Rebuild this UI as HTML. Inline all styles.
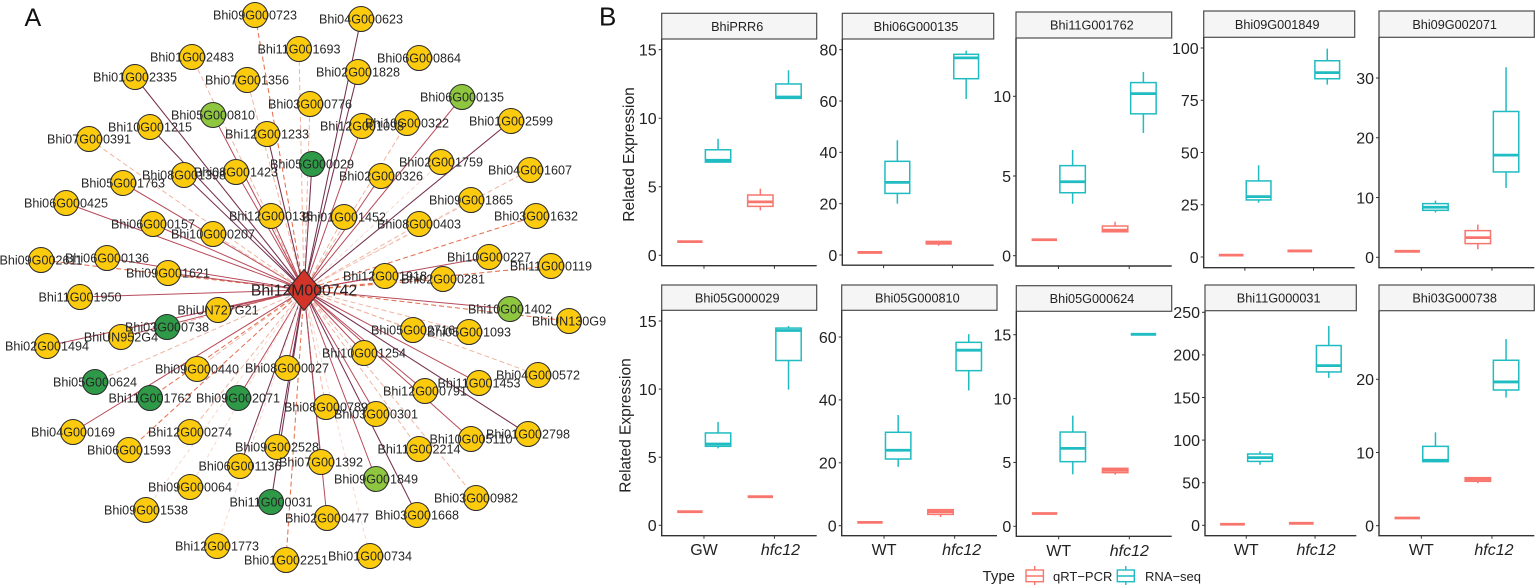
<!DOCTYPE html>
<html lang="en">
<head>
<meta charset="utf-8">
<title>Bhi12M000742 co-expression network and expression boxplots</title>
<style>
  html, body { margin: 0; padding: 0; background: #fff; }
  svg { display: block; font-family: "Liberation Sans", Arial, sans-serif; }
</style>
</head>
<body>
<svg id="figure" width="1535" height="585" viewBox="0 0 1535 585" xmlns="http://www.w3.org/2000/svg">
  <rect width="1535" height="585" fill="#ffffff"/>
  <text x="24.5" y="26" font-size="25" fill="#111">A</text>
  <text x="599" y="25.5" font-size="26" fill="#111">B</text>
  <g id="network"></g>
  <g id="panels"></g>
  <text transform="translate(634,154.5) rotate(-90)" text-anchor="middle" font-size="15.5" fill="#222">Related Expression</text>
  <text transform="translate(630.5,425.5) rotate(-90)" text-anchor="middle" font-size="15.5" fill="#222">Related Expression</text>
  <g>
    <text x="982.5" y="581" font-size="15" fill="#222">Type</text>
    <g fill="none" stroke="#F8766D" stroke-width="1.4">
      <line x1="1034.7" x2="1034.7" y1="566" y2="585"/>
      <rect x="1026" y="570" width="17.4" height="11.7" fill="#ffffff"/>
      <line x1="1026" x2="1043.4" y1="576" y2="576"/>
    </g>
    <text x="1053" y="581" font-size="13" fill="#222">qRT−PCR</text>
    <g fill="none" stroke="#1FBCC2" stroke-width="1.4">
      <line x1="1125.8" x2="1125.8" y1="566" y2="585"/>
      <rect x="1117.3" y="570" width="17" height="11.7" fill="#ffffff"/>
      <line x1="1117.3" x2="1134.3" y1="576" y2="576"/>
    </g>
    <text x="1145" y="581" font-size="13" fill="#222">RNA−seq</text>
  </g>
</svg>
<script>
/* ---------- Network data ---------- */
const hubName = "Bhi12M000742";
const geneNames = [
  "Bhi09G000723","Bhi01G002483","Bhi01G002335","Bhi07G001356","Bhi05G000810","Bhi10G001215","Bhi07G000391","Bhi12G001233",
  "Bhi08G001398","Bhi08G001423","Bhi05G001763","Bhi06G000425","Bhi12G000135","Bhi06G000157","Bhi10G000207","Bhi09G002611",
  "Bhi06G000136","Bhi09G001621","Bhi11G001950","Bhi04G000623","Bhi11G001693","Bhi06G000864","Bhi02G001828","Bhi03G000776",
  "Bhi06G000135","Bhi01G002599","Bhi12G001098","Bhi10G000322","Bhi05G000029","Bhi02G001759","Bhi02G000326","Bhi04G001607",
  "Bhi09G001865","Bhi01G001452","Bhi08G000403","Bhi03G001632","Bhi10G000227","Bhi11G000119","Bhi12G001918","Bhi02G000281",
  "Bhi10G001402","BhiUN130G9","BhiUN727G21","Bhi03G000738","BhiUN952G4","Bhi02G001494","Bhi09G000440","Bhi05G000624",
  "Bhi11G001762","Bhi09G002071","Bhi04G000169","Bhi12G000274","Bhi06G001593","Bhi08G000027","Bhi09G002528","Bhi06G001136",
  "Bhi09G000064","Bhi09G001538","Bhi11G000031","Bhi12G001773","Bhi01G002251","Bhi05G002716","Bhi05G001093","Bhi10G001254",
  "Bhi04G000572","Bhi11G001453","Bhi12G000791","Bhi08G000789","Bhi03G000301","Bhi01G002798","Bhi10G005110","Bhi11G002214",
  "Bhi07G001392","Bhi09G001849","Bhi03G000982","Bhi03G001668","Bhi02G000477","Bhi01G000734"
];
/* Network layout: force-directed node placement */
const layoutX = [
  255,192,135,247,213,150,89,267,
  184,236,123,66,271,153,213,41,
  107,168,80,361,299,419,358,310,
  462,511,362,407,312,441,381,530,
  471,344,419,536,489,551,385,443,
  510,569,218,167,121,47,197,95,
  150,238,73,190,129,287,277,240,
  190,146,271,217,286,413,469,364,
  538,479,425,326,376,528,471,419,
  321,376,476,417,327,370
];
const layoutY = [
  15,57,77,80,115,127,139,134,
  175,172,183,203,216,224,234,260,
  258,273,297,19,49,58,72,104,
  97,121,126,123,164,162,176,170,
  200,217,224,216,257,266,276,279,
  309,321,310,327,337,346,369,382,
  398,398,432,432,450,368,447,466,
  487,510,502,546,560,330,332,353,
  375,383,391,407,414,434,439,449,
  462,479,498,515,518,556
];
/* y = key gene, g = candidate, t = validated candidate */
const geneClass = [
  "y","y","y","y","g","y","y","y",
  "y","y","y","y","y","y","y","y",
  "y","y","y","y","y","y","y","y",
  "g","y","y","y","t","y","y","y",
  "y","y","y","y","y","y","y","y",
  "g","y","y","t","y","y","y","t",
  "t","t","y","y","y","y","y","y",
  "y","y","t","y","y","y","y","y",
  "y","y","y","y","y","y","y","y",
  "y","g","y","y","y","y"
];
/* d = strong solid, m = medium solid, s = strong dashed, l = light dashed, f = faint dashed */
const edgeClass = [
  "s","l","d","l","m","d","l","d",
  "d","m","m","m","m","m","l","s",
  "m","m","m","d","l","n","d","l",
  "m","d","m","l","d","f","m","l",
  "f","l","l","s","m","s","m","s",
  "m","s","m","l","m","m","l","l",
  "s","m","m","l","s","m","d","d",
  "f","f","d","f","s","l","l","m",
  "l","m","m","l","m","d","m","l",
  "d","m","l","d","m","f"
];
const nodeFills = { y: "#fdcb0e", g: "#8fc63f", t: "#2e9a48" };
const edgeStyles = {
  d: { stroke: "#75304f", width: 1.05, dash: "" },
  m: { stroke: "#b84a5a", width: 1, dash: "" },
  s: { stroke: "#e6714f", width: 1.05, dash: "5 3" },
  l: { stroke: "#f0b5a2", width: 1, dash: "5 3" },
  f: { stroke: "#f7d9ce", width: 1, dash: "4 3" },
  n: { stroke: "none", width: 0, dash: "" }
};

/* ---------- Boxplot data ---------- */
const panelTitles = ["BhiPRR6","Bhi06G000135","Bhi11G001762","Bhi09G001849","Bhi09G002071",
                     "Bhi05G000029","Bhi05G000810","Bhi05G000624","Bhi11G000031","Bhi03G000738"];
const firstGenotype = ["GW","WT","WT","WT","WT","GW","WT","WT","WT","WT"];
const secondGenotype = "hfc12";
const seriesNames = ["qRT−PCR","RNA−seq"];
const yTickValues = [
  [0,5,10,15],[0,20,40,60,80],[0,5,10],[0,25,50,75,100],[0,10,20,30],
  [0,5,10,15],[0,20,40,60],[0,5,10,15],[0,50,100,150,200,250],[0,10,20]
];
/* each box: [min, q1, median, q3, max] */
const qpcrControl = [
  [1,1,1,1,1],[1,1,1,1,1],[1,1,1,1,1],[0.9,0.9,0.9,0.9,0.9],[1,1,1,1,1],
  [1,1,1,1,1],[1.06,1.06,1.06,1.06,1.06],[1,1,1,1,1],[1.2,1.2,1.2,1.2,1.2],[1.05,1.05,1.05,1.05,1.05]
];
const rnaControl = [
  [6.76,6.8,6.93,7.7,8.5],[20,24,28.3,36.5,44.7],[3.26,3.95,4.64,5.65,6.63],[26,27.3,28.9,36.4,43.9],[7.5,7.86,8.37,8.98,9.48],
  [5.65,5.8,5.97,6.78,7.59],[18.7,21.2,24,29.7,35.2],[4.07,5.06,6.1,7.38,8.66],[71,75,79.4,83.7,86.9],[8.66,8.75,8.93,10.84,12.76]
];
const qpcrMutant = [
  [3.28,3.57,3.9,4.4,4.86],[3.6,4.3,4.8,5.3,5.5],[1.46,1.5,1.6,1.86,2.13],[2.9,2.9,2.9,2.9,2.9],[1.34,2.29,3.29,4.46,5.47],
  [2.1,2.1,2.1,2.1,2.1],[2.76,3.6,4.45,5.1,5.2],[4.04,4.2,4.38,4.54,4.57],[2.35,2.35,2.35,2.35,2.35],[5.8,6.06,6.33,6.56,6.6]
];
const rnaMutant = [
  [11.45,11.45,11.55,12.5,13.5],[60.8,68.7,76.8,78.2,79.6],[7.7,8.9,10.17,10.86,11.53],[82.5,85.3,88.2,93.9,99.7],[11.6,14.28,17.1,24.4,31.8],
  [9.96,12.1,14.3,14.48,14.63],[43,49.3,55.8,58.3,60.9],[15.03,15.03,15.03,15.03,15.03],[173,180,187.4,211,234],[17.5,18.54,19.64,22.6,25.5]
];

/* ---------- Panel frames (layout only) ---------- */
const frames = [
  {l:661.7,r:816.7,st:13.3,sb:39,b:265.7,y0:255.3,yt:49.7,dx:6},
  {l:842.3,r:993.7,st:13.3,sb:39,b:265.2,y0:255,yt:49.7,dx:7},
  {l:1016,r:1171.7,st:12,sb:38,b:266,y0:255.7,yt:96.3,dx:0},
  {l:1203.7,r:1354.7,st:11,sb:37.3,b:267.7,y0:257,yt:48,dx:0},
  {l:1379,r:1534.3,st:11,sb:37.3,b:267.7,y0:257.3,yt:78,dx:0},
  {l:661.7,r:816.7,st:285,sb:310.3,b:535.7,y0:525.3,yt:321,dx:6},
  {l:841.7,r:997,st:285,sb:310.3,b:535.7,y0:525.7,yt:337,dx:7},
  {l:1016.3,r:1171.7,st:285.7,sb:311.3,b:536.3,y0:526.3,yt:334.7,dx:0},
  {l:1205,r:1356.3,st:285,sb:310.7,b:535.7,y0:525.3,yt:312.3,dx:1},
  {l:1379,r:1534.3,st:285,sb:310.7,b:535.7,y0:525.7,yt:379.3,dx:2}
];

const SVGNS = "http://www.w3.org/2000/svg";
function make(tag, parent, attrs, text) {
  const el = document.createElementNS(SVGNS, tag);
  for (const k in attrs) el.setAttribute(k, attrs[k]);
  if (text !== undefined) el.textContent = text;
  parent.appendChild(el);
  return el;
}
function slug(s) { return s.toLowerCase().replace(/[^a-z0-9]+/g, "-"); }

/* ---------- Draw the network ---------- */
const netRoot = document.getElementById("network");
const hubX = 304, hubY = 290;
const edgeLayer = make("g", netRoot, {});


const nodeLayer = make("g", netRoot, {});


const labelLayer = make("g", netRoot, {});



geneNames.forEach(function (name, i) {
  const st = edgeStyles[edgeClass[i]];
  const edge = make("line", edgeLayer, {
    x1: hubX, y1: hubY, x2: layoutX[i], y2: layoutY[i],
    stroke: st.stroke, "stroke-width": st.width, "stroke-dasharray": st.dash
  });
  
  

  const node = make("circle", nodeLayer, {
    cx: layoutX[i], cy: layoutY[i], r: 12.5,
    fill: nodeFills[geneClass[i]], stroke: "#2a2a2a", "stroke-width": 1
  });
  
  

  const label = make("text", labelLayer, {
    x: layoutX[i], y: layoutY[i] + 4.3, "text-anchor": "middle",
    "font-size": 12.6, fill: "#262626"
  }, name);
  
  
});

const hub = make("polygon", nodeLayer, {
  points: [hubX, hubY - 20.5, hubX + 17, hubY, hubX, hubY + 20.5, hubX - 17, hubY].join(","),
  fill: "#d2342a", stroke: "#2a2a2a", "stroke-width": 1
});


const hubLabel = make("text", labelLayer, {
  x: hubX, y: hubY + 5.5, "text-anchor": "middle", "font-size": 15.8, fill: "#222"
}, hubName);



/* ---------- Draw the boxplots ---------- */
const panelRoot = document.getElementById("panels");
const seriesColors = ["#F8766D", "#1FBCC2"];

function drawBox(g, stats, xCenter, halfW, y, color, boxName) {
  const box = make("g", g, { fill: "none", stroke: color, "stroke-width": 1.5 });
  
  
  make("line", box, { x1: xCenter, x2: xCenter, y1: y(stats[4]), y2: y(stats[3]) });
  make("line", box, { x1: xCenter, x2: xCenter, y1: y(stats[1]), y2: y(stats[0]) });
  make("rect", box, {
    x: xCenter - halfW, y: y(stats[3]), width: halfW * 2,
    height: Math.max(0, y(stats[1]) - y(stats[3])), fill: "#ffffff"
  });
  make("line", box, {
    x1: xCenter - halfW, x2: xCenter + halfW, y1: y(stats[2]), y2: y(stats[2]),
    "stroke-width": 2.8
  });
}

panelTitles.forEach(function (title, p) {
  const f = frames[p];
  const ticks = yTickValues[p];
  const topTick = ticks[ticks.length - 1];
  const y = function (v) { return f.y0 - (v / topTick) * (f.y0 - f.yt); };
  const unit = (f.r - f.l) / 2.2;
  const x = function (cat) { return f.l + (0.6 + cat) * unit; };

  const g = make("g", panelRoot, {});
  
  

  const strip = make("rect", g, {
    x: f.l, y: f.st, width: f.r - f.l, height: f.sb - f.st,
    fill: "#f5f5f5", stroke: "#4d4d4d", "stroke-width": 1.2
  });
  
  
  const stripText = make("text", g, {
    x: (f.l + f.r) / 2 - 2, y: (f.st + f.sb) / 2 + 4.6, "text-anchor": "middle",
    "font-size": 12.7, fill: "#222"
  }, title);
  
  

  ticks.forEach(function (t) {
    const tick = make("line", g, {
      x1: f.l - 3, x2: f.l, y1: y(t), y2: y(t), stroke: "#333", "stroke-width": 1
    });
    
    
    const lab = make("text", g, {
      x: f.l - 5, y: y(t) + 5.8, "text-anchor": "end", "font-size": 16, fill: "#222"
    }, String(t));
    
    
  });

  [firstGenotype[p], secondGenotype].forEach(function (cat, c) {
    const tick = make("line", g, {
      x1: x(c), x2: x(c), y1: f.b, y2: f.b + 3, stroke: "#333", "stroke-width": 1
    });
    
    
    if (p >= 5) {
      const lab = make("text", g, {
        x: x(c) + (c === 1 ? f.dx : 0), y: f.b + 19.5, "text-anchor": "middle", "font-size": 16,
        fill: "#222", "font-style": c === 1 ? "italic" : "normal"
      }, cat);
      
      
    }
  });

  const dodge = 0.2 * unit, halfW = 0.18 * unit;
  drawBox(g, qpcrControl[p], x(0) - dodge, halfW, y, seriesColors[0], 'box-control-' + slug(seriesNames[0]));
  drawBox(g, rnaControl[p],  x(0) + dodge, halfW, y, seriesColors[1], 'box-control-' + slug(seriesNames[1]));
  drawBox(g, qpcrMutant[p],  x(1) - dodge, halfW, y, seriesColors[0], 'box-mutant-' + slug(seriesNames[0]));
  drawBox(g, rnaMutant[p],   x(1) + dodge, halfW, y, seriesColors[1], 'box-mutant-' + slug(seriesNames[1]));

  const axis = make("path", g, {
    d: "M" + f.l + " " + f.sb + "V" + f.b + "H" + f.r,
    fill: "none", stroke: "#333", "stroke-width": 1.4
  });
  
  
});
</script>
</body>
</html>
